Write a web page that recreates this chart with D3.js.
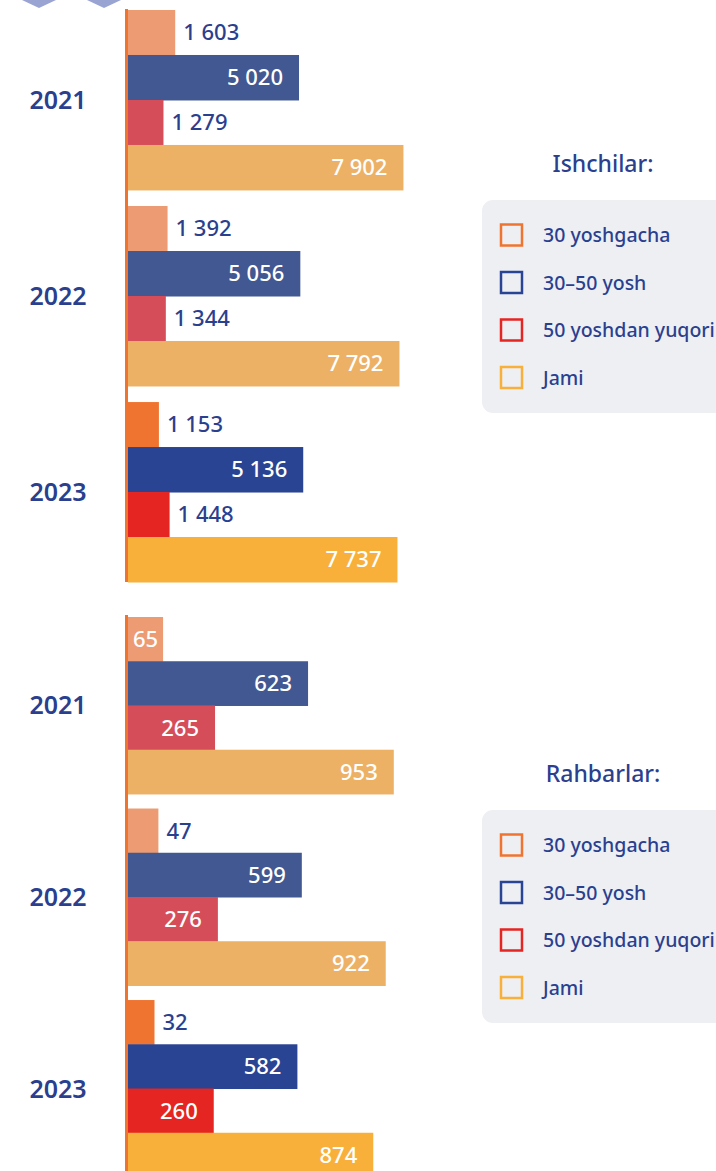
<!DOCTYPE html>
<html lang="uz">
<head>
<meta charset="UTF-8">
<title>Ishchilar va Rahbarlar yosh bo'yicha</title>
<script src="https://d3js.org/d3.v7.min.js"></script>
<style>
    html, body { margin: 0; padding: 0; background: #fff; }
    body { font-family: "Noto Sans", "Open Sans", sans-serif; }
    svg { display: block; }
</style>
</head>
<body>
<svg width="716" height="1171"></svg>
<script>
// Ma'lumotlar
const years = ["2021", "2022", "2023"];
const series = ["30 yoshgacha", "30–50 yosh", "50 yoshdan yuqori", "Jami"];

const workersU30 = [1603, 1392, 1153];
const workers3050 = [5020, 5056, 5136];
const workersO50 = [1279, 1344, 1448];
const workersTotal = [7902, 7792, 7737];

const leadersU30 = [65, 47, 32];
const leaders3050 = [623, 599, 582];
const leadersO50 = [265, 276, 260];
const leadersTotal = [953, 922, 874];

const colors = ["#ef7430", "#2a4494", "#e52522", "#f8b03b"];
const fadedColors = ["#ec9b72", "#415892", "#d64d5a", "#edb166"];
const textBlue = "#2b3f8f";

const svg = d3.select("svg");

// dekorativ shakllar tepada
svg.append("path").attr("d", "M22,0 L56,0 L39,8 Z").attr("fill", "#9aa4d2");
svg.append("path").attr("d", "M87,0 L121,0 L104,8 Z").attr("fill", "#9aa4d2");

function drawPanel(cfg) {
    const rows = years.map((yr, i) => ({
        year: yr,
        values: cfg.data.map((arr, s) => ({ s: s, v: arr[i] }))
    }));

    const y = d3.scaleBand().domain(years).range(cfg.yRange).paddingInner(cfg.gap).paddingOuter(0);
    const inner = d3.scaleBand().domain(d3.range(series.length)).range([0, y.bandwidth()]);
    const x = d3.scaleLinear().domain(cfg.xDomain).range([128, 128 + cfg.xLen]);

    const g = svg.append("g");

    const groups = g.selectAll(".grp")
        .data(rows)
        .enter().append("g")
        .attr("class", "grp")
        .attr("transform", d => `translate(0,${y(d.year)})`);

    groups.selectAll("rect")
        .data(d => d.values.map(v => Object.assign({ year: d.year }, v)))
        .enter().append("rect")
        .attr("x", x(cfg.xDomain[0]))
        .attr("y", d => inner(d.s))
        .attr("width", d => x(d.v) - x(cfg.xDomain[0]))
        .attr("height", inner.bandwidth() + 0.5)
        .attr("fill", d => d.year === "2023" ? colors[d.s] : fadedColors[d.s]);

    // qiymat yorliqlari
    groups.selectAll("text.val")
        .data(d => d.values)
        .enter().append("text")
        .attr("class", "val")
        .attr("y", d => inner(d.s) + inner.bandwidth() / 2)
        .attr("dy", "0.36em")
        .attr("font-size", "22px")
        .attr("font-weight", 500)
        .text(d => d3.format(",")(d.v).replace(/,/g, " "))
        .each(function(d) {
            const t = d3.select(this);
            const w = this.getComputedTextLength();
            const x0 = x(cfg.xDomain[0]);
            const barW = x(d.v) - x0;
            if (barW >= w + 6) {
                const pad = Math.min(16, (barW - w) / 2);
                t.attr("x", x(d.v) - pad).attr("text-anchor", "end").attr("fill", "#fff");
            } else {
                t.attr("x", x(d.v) + 8).attr("text-anchor", "start").attr("fill", textBlue);
            }
        });

    // yil yorliqlari
    g.selectAll(".year")
        .data(years)
        .enter().append("text")
        .attr("class", "year")
        .attr("x", 58)
        .attr("y", d => y(d) + y.bandwidth() / 2)
        .attr("dy", "0.36em")
        .attr("text-anchor", "middle")
        .attr("font-size", "25px")
        .attr("font-weight", 560)
        .attr("fill", textBlue)
        .text(d => d);

    // o'q chizig'i
    g.append("line")
        .attr("x1", 126.5).attr("x2", 126.5)
        .attr("y1", cfg.axisY[0]).attr("y2", cfg.axisY[1])
        .attr("stroke", "#ef7430")
        .attr("stroke-width", 3);

    // legenda
    const lg = svg.append("g");
    lg.append("text")
        .attr("x", 603).attr("y", cfg.legendY - 28)
        .attr("text-anchor", "middle")
        .attr("font-size", "23px")
        .attr("font-weight", 500)
        .attr("fill", textBlue)
        .text(cfg.title);
    lg.append("rect")
        .attr("x", 482).attr("y", cfg.legendY)
        .attr("width", 260).attr("height", 213)
        .attr("rx", 11)
        .attr("fill", "#eeeff3");
    const items = lg.selectAll(".item")
        .data(series)
        .enter().append("g")
        .attr("transform", (d, i) => `translate(0,${cfg.legendY + 35 + i * 47.5})`);
    items.append("rect")
        .attr("x", 501).attr("y", -10.5)
        .attr("width", 21).attr("height", 21)
        .attr("fill", "none")
        .attr("stroke", (d, i) => colors[i])
        .attr("stroke-width", 2.5);
    items.append("text")
        .attr("x", 543).attr("dy", "0.36em")
        .attr("font-size", "19.5px")
        .attr("font-weight", 500)
        .attr("fill", textBlue)
        .text(d => d);
}

drawPanel({
    data: [workersU30, workers3050, workersO50, workersTotal],
    yRange: [10, 582],
    gap: 0.082,
    xDomain: [300, 8000],
    xLen: 279,
    axisY: [9, 582],
    title: "Ishchilar:",
    legendY: 200
});

drawPanel({
    data: [leadersU30, leaders3050, leadersO50, leadersTotal],
    yRange: [617, 1177],
    gap: 0.076,
    xDomain: [-70, 1000],
    xLen: 278,
    axisY: [615, 1171],
    title: "Rahbarlar:",
    legendY: 810
});
</script>
</body>
</html>
